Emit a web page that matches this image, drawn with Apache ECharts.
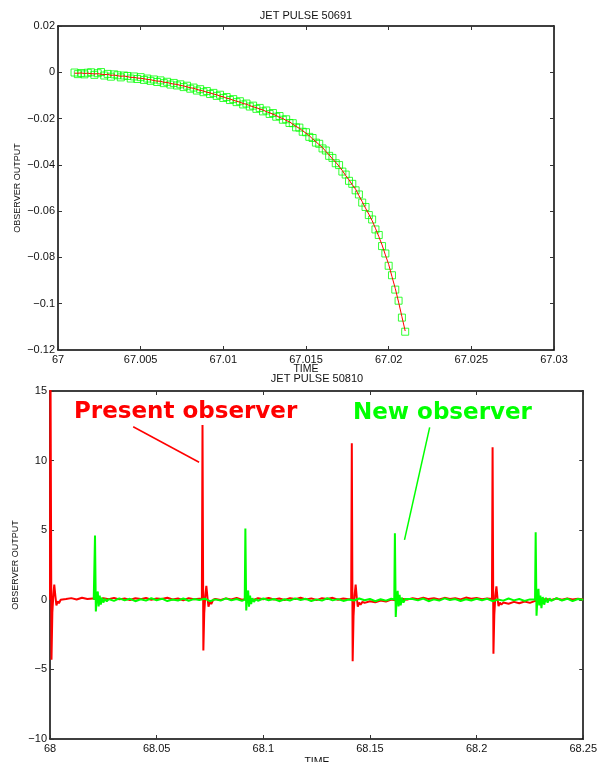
<!DOCTYPE html>
<html>
<head>
<meta charset="utf-8">
<title>JET PULSE observer output</title>
<script src="https://cdn.jsdelivr.net/npm/echarts@6/dist/echarts.min.js"></script>
<style>
  html, body { margin: 0; padding: 0; background: #fff; }
  #chart { width: 600px; height: 762px; }
</style>
</head>
<body>
<div id="chart"></div>
<script>
// ---------- Pulse 50691: measured samples vs. observer estimate ----------
const pulse1Time = [
  67.0010, 67.0012, 67.0014, 67.0016, 67.0018, 67.0020, 67.0022, 67.0024, 67.0026, 67.0028,
  67.0030, 67.0032, 67.0034, 67.0036, 67.0038, 67.0040, 67.0042, 67.0044, 67.0046, 67.0048,
  67.0050, 67.0052, 67.0054, 67.0056, 67.0058, 67.0060, 67.0062, 67.0064, 67.0066, 67.0068,
  67.0070, 67.0072, 67.0074, 67.0076, 67.0078, 67.0080, 67.0082, 67.0084, 67.0086, 67.0088,
  67.0090, 67.0092, 67.0094, 67.0096, 67.0098, 67.0100, 67.0102, 67.0104, 67.0106, 67.0108,
  67.0110, 67.0112, 67.0114, 67.0116, 67.0118, 67.0120, 67.0122, 67.0124, 67.0126, 67.0128,
  67.0130, 67.0132, 67.0134, 67.0136, 67.0138, 67.0140, 67.0142, 67.0144, 67.0146, 67.0148,
  67.0150, 67.0152, 67.0154, 67.0156, 67.0158, 67.0160, 67.0162, 67.0164, 67.0166, 67.0168,
  67.0170, 67.0172, 67.0174, 67.0176, 67.0178, 67.0180, 67.0182, 67.0184, 67.0186, 67.0188,
  67.0190, 67.0192, 67.0194, 67.0196, 67.0198, 67.0200, 67.0202, 67.0204, 67.0206, 67.0208,
  67.0210
];
const pulse1Measured = [
  -0.0001, -0.0008, -0.0003, -0.0009, -0.0002,  0.0000, -0.0011, -0.0004,  0.0001, -0.0014,
  -0.0007, -0.0019, -0.0009, -0.0013, -0.0022, -0.0014, -0.0016, -0.0027, -0.0018, -0.0029,
  -0.0021, -0.0033, -0.0027, -0.0037, -0.0031, -0.0042, -0.0035, -0.0047, -0.0041, -0.0053,
  -0.0046, -0.0057, -0.0052, -0.0064, -0.0058, -0.0071, -0.0066, -0.0079, -0.0073, -0.0086,
  -0.0081, -0.0094, -0.0089, -0.0102, -0.0097, -0.0111, -0.0107, -0.0120, -0.0116, -0.0129,
  -0.0125, -0.0139, -0.0135, -0.0148, -0.0144, -0.0158, -0.0154, -0.0169, -0.0165, -0.0180,
  -0.0176, -0.0192, -0.0189, -0.0205, -0.0203, -0.0219, -0.0220, -0.0238, -0.0239, -0.0257,
  -0.0259, -0.0279, -0.0284, -0.0304, -0.0309, -0.0329, -0.0338, -0.0361, -0.0370, -0.0393,
  -0.0401, -0.0429, -0.0442, -0.0469, -0.0482, -0.0510, -0.0528, -0.0563, -0.0582, -0.0617,
  -0.0636, -0.0679, -0.0703, -0.0751, -0.0783, -0.0836, -0.0877, -0.0939, -0.0987, -0.1060,
  -0.1121
];
const pulse1Observer = [
  -0.0004, -0.0004, -0.0003, -0.0005, -0.0004, -0.0006, -0.0007, -0.0006, -0.0008, -0.0010,
  -0.0009, -0.0013, -0.0012, -0.0015, -0.0017, -0.0016, -0.0019, -0.0022, -0.0022, -0.0025,
  -0.0026, -0.0028, -0.0031, -0.0032, -0.0036, -0.0038, -0.0039, -0.0043, -0.0044, -0.0048,
  -0.0051, -0.0052, -0.0057, -0.0059, -0.0063, -0.0067, -0.0069, -0.0074, -0.0078, -0.0081,
  -0.0086, -0.0089, -0.0094, -0.0097, -0.0103, -0.0106, -0.0112, -0.0115, -0.0121, -0.0125,
  -0.0129, -0.0135, -0.0138, -0.0144, -0.0149, -0.0153, -0.0159, -0.0163, -0.0170, -0.0175,
  -0.0181, -0.0187, -0.0195, -0.0200, -0.0208, -0.0214, -0.0224, -0.0234, -0.0242, -0.0253,
  -0.0263, -0.0274, -0.0288, -0.0300, -0.0313, -0.0325, -0.0342, -0.0357, -0.0374, -0.0389,
  -0.0406, -0.0425, -0.0446, -0.0465, -0.0486, -0.0505, -0.0533, -0.0559, -0.0587, -0.0613,
  -0.0641, -0.0674, -0.0709, -0.0746, -0.0789, -0.0830, -0.0883, -0.0934, -0.0993, -0.1056,
  -0.1118
];

// ---------- Pulse 50810: present observer vs. new observer, [time, output] ----------
const presentObserver = [
  [68.0000, 0.00], [68.0002, 18.00], [68.0007, -4.30], [68.0011, -0.90], [68.0016, 0.40],
  [68.0020, 1.10], [68.0025, 0.30], [68.0030, -0.40], [68.0036, -0.10], [68.0042, -0.25],
  [68.0050, 0.00], [68.0075, 0.05], [68.0100, 0.12], [68.0125, 0.02], [68.0150, 0.15],
  [68.0175, 0.06], [68.0200, 0.10], [68.0225, -0.02], [68.0250, 0.12], [68.0275, 0.04],
  [68.0300, 0.14], [68.0325, 0.03], [68.0350, 0.09], [68.0375, -0.01], [68.0400, 0.11],
  [68.0425, 0.05], [68.0450, 0.13], [68.0475, 0.00], [68.0500, 0.10], [68.0525, 0.06],
  [68.0550, 0.15], [68.0575, 0.02], [68.0600, 0.09], [68.0625, -0.03], [68.0650, 0.12],
  [68.0675, 0.04], [68.0700, 0.08],
  [68.0712, 0.05], [68.0715, 12.55], [68.0719, -3.64], [68.0723, -1.00], [68.0728, 0.30],
  [68.0733, 1.00], [68.0738, 0.20], [68.0743, -0.50], [68.0749, -0.15], [68.0756, -0.30],
  [68.0765, 0.00], [68.0775, 0.06], [68.0800, -0.02], [68.0825, 0.10], [68.0850, 0.03],
  [68.0875, 0.13], [68.0900, 0.01], [68.0925, 0.08], [68.0950, -0.03], [68.0975, 0.11],
  [68.1000, 0.04], [68.1025, 0.14], [68.1050, 0.02], [68.1075, 0.09], [68.1100, -0.01],
  [68.1125, 0.12], [68.1150, 0.05], [68.1175, 0.15], [68.1200, 0.03], [68.1225, 0.10],
  [68.1250, -0.02], [68.1275, 0.11], [68.1300, 0.06], [68.1325, 0.14], [68.1350, 0.00],
  [68.1375, 0.09], [68.1400, 0.04],
  [68.1412, 0.05], [68.1415, 11.24], [68.1419, -4.42], [68.1423, -1.20], [68.1428, 0.30],
  [68.1433, 1.10], [68.1438, 0.20], [68.1443, -0.50], [68.1449, -0.20], [68.1456, -0.35],
  [68.1465, -0.15], [68.1475, -0.22], [68.1500, -0.10], [68.1525, -0.18], [68.1550, -0.05],
  [68.1575, -0.12], [68.1600, 0.02], [68.1625, -0.06], [68.1650, 0.08], [68.1675, 0.01],
  [68.1700, 0.12], [68.1725, 0.04], [68.1750, 0.15], [68.1775, 0.05], [68.1800, 0.11],
  [68.1825, 0.02], [68.1850, 0.14], [68.1875, 0.06], [68.1900, 0.12], [68.1925, 0.03],
  [68.1950, 0.16], [68.1975, 0.07], [68.2000, 0.13], [68.2025, 0.04], [68.2050, 0.10],
  [68.2072, 0.05], [68.2075, 10.95], [68.2079, -3.87], [68.2083, -1.10], [68.2088, 0.30],
  [68.2093, 0.96], [68.2098, 0.10], [68.2103, -0.45], [68.2109, -0.20], [68.2116, -0.35],
  [68.2125, -0.20], [68.2150, -0.28], [68.2175, -0.15], [68.2200, -0.25], [68.2225, -0.12],
  [68.2250, -0.22], [68.2275, -0.08], [68.2300, -0.05], [68.2325, 0.06], [68.2350, -0.02],
  [68.2375, 0.09], [68.2400, 0.01], [68.2425, 0.10], [68.2450, 0.03], [68.2475, 0.08],
  [68.2500, 0.02]
];
const newObserver = [
  [68.0205, 0.00], [68.0209, 0.05],
  [68.0211, 4.61], [68.0215, -0.84], [68.0219, 0.10], [68.0224, 0.60], [68.0228, -0.48],
  [68.0233, 0.30], [68.0238, -0.35], [68.0244, 0.15], [68.0250, -0.20], [68.0258, 0.08],
  [68.0266, -0.12], [68.0275, 0.05], [68.0300, -0.08], [68.0325, 0.10], [68.0350, -0.04],
  [68.0375, 0.07], [68.0400, -0.10], [68.0425, 0.04], [68.0450, -0.06], [68.0475, 0.11],
  [68.0500, -0.03], [68.0525, 0.08], [68.0550, -0.09], [68.0575, 0.02], [68.0600, -0.05],
  [68.0625, 0.09], [68.0650, -0.07], [68.0675, 0.05], [68.0700, -0.02], [68.0725, 0.08],
  [68.0750, -0.10], [68.0775, 0.03], [68.0800, -0.06], [68.0825, 0.10], [68.0850, -0.04],
  [68.0875, 0.06], [68.0900, -0.08],
  [68.0913, 0.02], [68.0916, 5.12], [68.0920, -0.77], [68.0924, 0.10], [68.0929, 0.67],
  [68.0933, -0.50], [68.0938, 0.30], [68.0943, -0.30], [68.0949, 0.12], [68.0956, -0.15],
  [68.0965, 0.05], [68.0975, -0.07], [68.1000, 0.09], [68.1025, -0.03], [68.1050, 0.06],
  [68.1075, -0.10], [68.1100, 0.04], [68.1125, -0.05], [68.1150, 0.10], [68.1175, -0.02],
  [68.1200, 0.07], [68.1225, -0.09], [68.1250, 0.03], [68.1275, -0.06], [68.1300, 0.11],
  [68.1325, -0.04], [68.1350, 0.05], [68.1375, -0.08], [68.1400, 0.02], [68.1425, -0.05],
  [68.1450, 0.09], [68.1475, -0.03], [68.1500, 0.06], [68.1525, -0.10], [68.1550, 0.04],
  [68.1575, -0.06], [68.1600, 0.08],
  [68.1614, 0.02], [68.1617, 4.78], [68.1621, -1.24], [68.1625, 0.05], [68.1630, 0.65],
  [68.1634, -0.48], [68.1639, 0.35], [68.1644, -0.40], [68.1650, 0.15], [68.1657, -0.20],
  [68.1666, 0.05], [68.1675, -0.08], [68.1700, 0.06], [68.1725, -0.04], [68.1750, 0.09],
  [68.1775, -0.10], [68.1800, 0.03], [68.1825, -0.06], [68.1850, 0.10], [68.1875, -0.02],
  [68.1900, 0.05], [68.1925, -0.09], [68.1950, 0.04], [68.1975, -0.05], [68.2000, 0.08],
  [68.2025, -0.03], [68.2050, 0.07], [68.2075, -0.10], [68.2100, 0.02], [68.2125, -0.06],
  [68.2150, 0.09], [68.2175, -0.04], [68.2200, 0.06], [68.2225, -0.08], [68.2250, 0.03],
  [68.2274, 0.02], [68.2277, 4.86], [68.2281, -1.15], [68.2285, 0.05], [68.2290, 0.79],
  [68.2294, -0.40], [68.2299, 0.30], [68.2304, -0.60], [68.2310, 0.20], [68.2317, -0.35],
  [68.2325, 0.15], [68.2333, -0.20], [68.2342, 0.10], [68.2350, -0.08], [68.2375, 0.12],
  [68.2400, -0.05], [68.2425, 0.08], [68.2450, -0.10], [68.2475, 0.06], [68.2500, 0.00]
];

// Callout leader lines, in data coordinates of the lower plot
const presentLeader = [[68.0390, 12.43], [68.0699, 9.88]];
const newLeader = [[68.1780, 12.39], [68.1662, 4.30]];

// Axis ranges and tick steps
const pulse1XRange = [67, 67.03, 0.005];
const pulse1YRange = [-0.12, 0.02, 0.02];
const pulse2XRange = [68, 68.25, 0.05];
const pulse2YRange = [-10, 15, 5];

const RED = '#ff0000';
const GREEN = '#00ff00';
const FONT = 'Liberation Sans, Arial, sans-serif';
const BOLD_FONT = 'DejaVu Sans, sans-serif';

function tickText(v) {
  const s = String(parseFloat(Number(v).toFixed(6)));
  return s.replace('-', '\u2212');
}

function axisPair(kind, gridIndex, range) {
  const common = {
    type: 'value',
    gridIndex: gridIndex,
    min: range[0],
    max: range[1],
    interval: range[2],
    splitLine: { show: false },
    axisLine: { show: true, onZero: false, lineStyle: { color: '#000', width: 1.5 } },
    axisTick: { show: true, inside: true, length: 4, lineStyle: { color: '#333', width: 1 } }
  };
  const main = Object.assign({}, common, {
    position: kind === 'x' ? 'bottom' : 'left',
    axisLabel: {
      show: true,
      margin: kind === 'x' ? 4 : 3,
      color: '#111',
      fontFamily: FONT,
      fontSize: 11,
      showMinLabel: true,
      showMaxLabel: true,
      hideOverlap: false,
      formatter: tickText
    }
  });
  const mirror = Object.assign({}, common, {
    position: kind === 'x' ? 'top' : 'right',
    axisLabel: { show: false }
  });
  return [main, mirror];
}

const xAxes = axisPair('x', 0, pulse1XRange).concat(axisPair('x', 1, pulse2XRange));
const yAxes = axisPair('y', 0, pulse1YRange).concat(axisPair('y', 1, pulse2YRange));

function label(text, x, y, size, opts) {
  return Object.assign({
    type: 'text',
    x: x,
    y: y,
    silent: true,
    style: {
      text: text,
      fill: '#111',
      font: size + 'px ' + FONT,
      textAlign: 'center',
      textVerticalAlign: 'middle'
    }
  }, opts || {});
}

const chart = echarts.init(document.getElementById('chart'), null, { renderer: 'canvas' });

chart.setOption({
  backgroundColor: '#ffffff',
  animation: false,
  grid: [
    { left: 58, top: 26, width: 496, height: 324 },
    { left: 50, top: 391, width: 534, height: 348 }
  ],
  xAxis: xAxes,
  yAxis: yAxes,
  series: [
    {
      name: 'measured',
      type: 'scatter',
      xAxisIndex: 0,
      yAxisIndex: 0,
      symbol: 'rect',
      symbolSize: 7,
      itemStyle: { color: 'rgba(0,0,0,0)', borderColor: GREEN, borderWidth: 1 },
      data: pulse1Time.map((t, i) => [t, pulse1Measured[i]]),
      silent: true,
      z: 2
    },
    {
      name: 'observer',
      type: 'line',
      xAxisIndex: 0,
      yAxisIndex: 0,
      showSymbol: false,
      lineStyle: { color: RED, width: 1 },
      data: pulse1Time.map((t, i) => [t, pulse1Observer[i]]),
      silent: true,
      z: 3
    },
    {
      name: 'Present observer',
      type: 'line',
      xAxisIndex: 2,
      yAxisIndex: 2,
      showSymbol: false,
      clip: true,
      lineStyle: { color: RED, width: 2 },
      data: presentObserver,
      silent: true,
      z: 2
    },
    {
      name: 'New observer',
      type: 'line',
      xAxisIndex: 2,
      yAxisIndex: 2,
      showSymbol: false,
      clip: true,
      lineStyle: { color: GREEN, width: 2 },
      data: newObserver,
      silent: true,
      z: 3
    },
    {
      name: 'present leader',
      type: 'line',
      xAxisIndex: 2,
      yAxisIndex: 2,
      showSymbol: false,
      lineStyle: { color: RED, width: 1.5 },
      data: presentLeader,
      silent: true,
      z: 4
    },
    {
      name: 'new leader',
      type: 'line',
      xAxisIndex: 2,
      yAxisIndex: 2,
      showSymbol: false,
      lineStyle: { color: GREEN, width: 1.5 },
      data: newLeader,
      silent: true,
      z: 4
    }
  ],
  graphic: [
    label('JET PULSE 50691', 306, 16, 11),
    label('TIME', 306, 369, 10.5),
    label('OBSERVER OUTPUT', 18, 188, 9, { rotation: Math.PI / 2 }),
    label('JET PULSE 50810', 317, 379, 11),
    label('TIME', 317, 762, 10.5),
    label('OBSERVER OUTPUT', 16, 565, 9, { rotation: Math.PI / 2 }),
    {
      type: 'text', x: 74, y: 412, silent: true, z: 10,
      style: {
        text: 'Present observer', fill: RED,
        font: 'bold 23px ' + BOLD_FONT,
        textAlign: 'left', textVerticalAlign: 'middle'
      }
    },
    {
      type: 'text', x: 353, y: 413, silent: true, z: 10,
      style: {
        text: 'New observer', fill: GREEN,
        font: 'bold 23px ' + BOLD_FONT,
        textAlign: 'left', textVerticalAlign: 'middle'
      }
    }
  ]
});
</script>
</body>
</html>
